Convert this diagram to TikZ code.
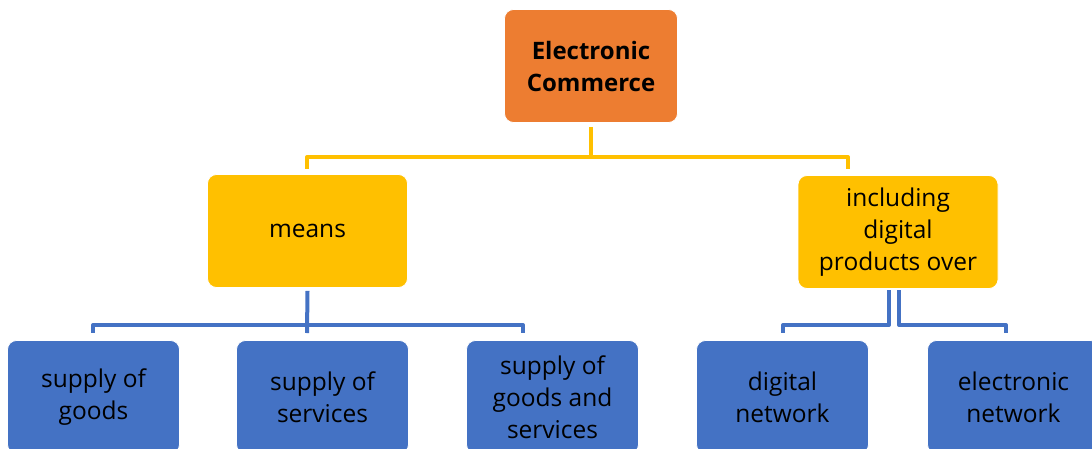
\documentclass[tikz,border=0pt]{standalone}
\usepackage{fontspec}
\setmainfont{Open Sans}
\definecolor{eorange}{HTML}{ED7D31}
\definecolor{eyellow}{HTML}{FFC000}
\definecolor{eblue}{HTML}{4472C4}
\begin{document}
\begin{tikzpicture}[x=1pt,y=-1pt,
  box/.style={rectangle, rounded corners=9pt, draw=white, line width=0.8pt, align=center, inner sep=0pt, font=\fontsize{24.5}{32}\selectfont, text=black},
  topbox/.style={box, fill=eorange, minimum width=173pt, minimum height=113pt, font=\fontsize{24}{32}\selectfont\bfseries},
  midbox/.style={box, fill=eyellow, minimum width=200pt, minimum height=113pt},
  lowbox/.style={box, fill=eblue, minimum width=172pt, minimum height=113pt},
  yl/.style={draw=eyellow, line width=4pt, line join=round},
  bl/.style={draw=eblue, line width=4pt, line join=round}]
\useasboundingbox (0,0) rectangle (1092,448);
\node[topbox] (ec) at (591,66) {Electronic\\Commerce};
\node[midbox] (means) at (307.5,231) {means};
\node[midbox] (inc) at (898,232) {including\\digital\\products over};
\node[lowbox] (b1) at (93.5,397) {supply of\\goods};
\node[lowbox] (b2) at (322.5,397) {supply of\\services};
\node[lowbox] (b3) at (552.5,397) {supply of\\goods and\\services};
\node[lowbox] (b4) at (782.5,397) {digital\\network};
\node[lowbox] (b5) at (1013.5,397) {electronic\\network};
% yellow connectors
\coordinate (yj) at (591,157);
\coordinate (y1) at (307,169);
\coordinate (y2) at (848,169);
\draw[yl] ([yshift=-4pt]ec.south) -- (yj) -| (y1);
\draw[yl] (yj) -| (y2);
% blue connectors from means
\coordinate (mj) at (307,325);
\coordinate (m1) at (93,333);
\coordinate (m2) at (307,333);
\coordinate (m3) at (523,333);
\draw[bl] ([yshift=-3pt]means.south) -- (m2);
\draw[bl] (mj) -| (m1);
\draw[bl] (mj) -| (m3);
% blue connectors from including
\coordinate (ia) at (889,290);
\coordinate (ib) at (899,290);
\coordinate (i1) at (783,333);
\coordinate (i2) at (1006,333);
\draw[bl] (ia) |- (836,325) -| (i1);
\draw[bl] (ib) |- (950,325) -| (i2);
\end{tikzpicture}
\end{document}
